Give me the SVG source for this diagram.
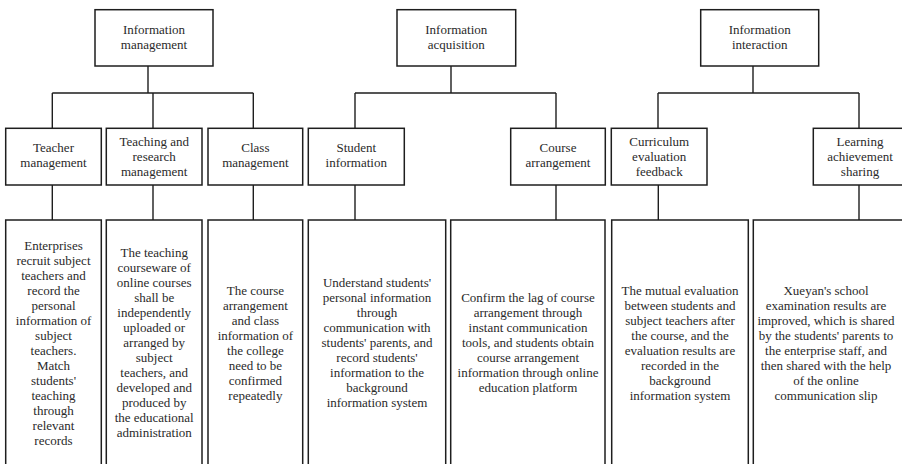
<svg xmlns="http://www.w3.org/2000/svg" width="902" height="464" viewBox="0 0 902 464">
  <style>
    .box { fill: #ffffff; stroke: #1e1e1e; stroke-width: 1.5; }
    .link { fill: none; stroke: #1e1e1e; stroke-width: 1.4; }
    text { font-family: "Liberation Serif", "Times New Roman", serif; font-size: 13px; fill: #2a2a2a; text-anchor: middle; }
  </style>
  <rect width="902" height="464" fill="#ffffff"/>

  <!-- connectors -->
  <g id="connectors">
    <path class="link" d="M148 66V93M52.3 93H253.3M52.3 93V128.3M153 93V128.3M253.3 93V128.3"/>
    <path class="link" d="M451 66V93M355 93H556M355 93V128.3M556 93V128.3"/>
    <path class="link" d="M753 66V93M658 93H859M658 93V128.3M859 93V128.3"/>
    <path class="link" d="M52.3 185V220M153 185V220M253.3 185V220M355 185V220M556 185V220M658.3 185V220M859 185V220"/>
  </g>

  <!-- top level -->
  <g id="info-management">
    <rect class="box" x="95" y="9.7" width="118" height="56.3"/>
    <text x="154" y="34.3">Information<tspan x="154" dy="15">management</tspan></text>
  </g>
  <g id="info-acquisition">
    <rect class="box" x="397" y="9.7" width="118.7" height="56.3"/>
    <text x="456.3" y="34.3">Information<tspan x="456.3" dy="15">acquisition</tspan></text>
  </g>
  <g id="info-interaction">
    <rect class="box" x="700.7" y="9.7" width="118" height="56.3"/>
    <text x="759.7" y="34.3">Information<tspan x="759.7" dy="15">interaction</tspan></text>
  </g>

  <!-- second level -->
  <g id="teacher-management">
    <rect class="box" x="5.7" y="128.3" width="95.6" height="56.7"/>
    <text x="53.5" y="152">Teacher<tspan x="53.5" dy="15">management</tspan></text>
  </g>
  <g id="teaching-research">
    <rect class="box" x="106.3" y="128.3" width="95.7" height="56.7"/>
    <text x="154.2" y="146">Teaching and<tspan x="154.2" dy="15">research</tspan><tspan x="154.2" dy="15">management</tspan></text>
  </g>
  <g id="class-management">
    <rect class="box" x="208" y="128.3" width="94.7" height="56.7"/>
    <text x="255.4" y="152">Class<tspan x="255.4" dy="15">management</tspan></text>
  </g>
  <g id="student-information">
    <rect class="box" x="308.3" y="128.3" width="96" height="56.7"/>
    <text x="356.3" y="152">Student<tspan x="356.3" dy="15">information</tspan></text>
  </g>
  <g id="course-arrangement">
    <rect class="box" x="510.7" y="128.3" width="94.6" height="56.7"/>
    <text x="558" y="152">Course<tspan x="558" dy="15">arrangement</tspan></text>
  </g>
  <g id="curriculum-feedback">
    <rect class="box" x="611.3" y="128.3" width="95.7" height="56.7"/>
    <text x="659.2" y="146">Curriculum<tspan x="659.2" dy="15">evaluation</tspan><tspan x="659.2" dy="15">feedback</tspan></text>
  </g>
  <g id="achievement-sharing">
    <rect class="box" x="813.3" y="128.3" width="93.7" height="56.7"/>
    <text x="860" y="146">Learning<tspan x="860" dy="15">achievement</tspan><tspan x="860" dy="15">sharing</tspan></text>
  </g>

  <!-- descriptions -->
  <g id="desc-teacher">
    <rect class="box" x="5.7" y="220" width="95.6" height="260"/>
    <text x="53.5" y="249.5">Enterprises<tspan x="53.5" dy="15">recruit subject</tspan><tspan x="53.5" dy="15">teachers and</tspan><tspan x="53.5" dy="15">record the</tspan><tspan x="53.5" dy="15">personal</tspan><tspan x="53.5" dy="15">information of</tspan><tspan x="53.5" dy="15">subject</tspan><tspan x="53.5" dy="15">teachers.</tspan><tspan x="53.5" dy="15">Match</tspan><tspan x="53.5" dy="15">students'</tspan><tspan x="53.5" dy="15">teaching</tspan><tspan x="53.5" dy="15">through</tspan><tspan x="53.5" dy="15">relevant</tspan><tspan x="53.5" dy="15">records</tspan></text>
  </g>
  <g id="desc-teaching">
    <rect class="box" x="106.3" y="220" width="95.7" height="260"/>
    <text x="154.2" y="257">The teaching<tspan x="154.2" dy="15">courseware of</tspan><tspan x="154.2" dy="15">online courses</tspan><tspan x="154.2" dy="15">shall be</tspan><tspan x="154.2" dy="15">independently</tspan><tspan x="154.2" dy="15">uploaded or</tspan><tspan x="154.2" dy="15">arranged by</tspan><tspan x="154.2" dy="15">subject</tspan><tspan x="154.2" dy="15">teachers, and</tspan><tspan x="154.2" dy="15">developed and</tspan><tspan x="154.2" dy="15">produced by</tspan><tspan x="154.2" dy="15">the educational</tspan><tspan x="154.2" dy="15">administration</tspan></text>
  </g>
  <g id="desc-class">
    <rect class="box" x="208" y="220" width="94.7" height="260"/>
    <text x="255.4" y="294.5">The course<tspan x="255.4" dy="15">arrangement</tspan><tspan x="255.4" dy="15">and class</tspan><tspan x="255.4" dy="15">information of</tspan><tspan x="255.4" dy="15">the college</tspan><tspan x="255.4" dy="15">need to be</tspan><tspan x="255.4" dy="15">confirmed</tspan><tspan x="255.4" dy="15">repeatedly</tspan></text>
  </g>
  <g id="desc-student">
    <rect class="box" x="308.3" y="220" width="137.4" height="260"/>
    <text x="377" y="287">Understand students'<tspan x="377" dy="15">personal information</tspan><tspan x="377" dy="15">through</tspan><tspan x="377" dy="15">communication with</tspan><tspan x="377" dy="15">students' parents, and</tspan><tspan x="377" dy="15">record students'</tspan><tspan x="377" dy="15">information to the</tspan><tspan x="377" dy="15">background</tspan><tspan x="377" dy="15">information system</tspan></text>
  </g>
  <g id="desc-course">
    <rect class="box" x="450.7" y="220" width="154.3" height="260"/>
    <text x="528" y="302">Confirm the lag of course<tspan x="528" dy="15">arrangement through</tspan><tspan x="528" dy="15">instant communication</tspan><tspan x="528" dy="15">tools, and students obtain</tspan><tspan x="528" dy="15">course arrangement</tspan><tspan x="528" dy="15">information through online</tspan><tspan x="528" dy="15">education platform</tspan></text>
  </g>
  <g id="desc-curriculum">
    <rect class="box" x="611.7" y="220" width="136.6" height="260"/>
    <text x="680" y="294.5">The mutual evaluation<tspan x="680" dy="15">between students and</tspan><tspan x="680" dy="15">subject teachers after</tspan><tspan x="680" dy="15">the course, and the</tspan><tspan x="680" dy="15">evaluation results are</tspan><tspan x="680" dy="15">recorded in the</tspan><tspan x="680" dy="15">background</tspan><tspan x="680" dy="15">information system</tspan></text>
  </g>
  <g id="desc-sharing">
    <rect class="box" x="753.3" y="220" width="152" height="260"/>
    <text x="826" y="294.5">Xueyan's school<tspan x="826" dy="15">examination results are</tspan><tspan x="826" dy="15">improved, which is shared</tspan><tspan x="826" dy="15">by the students' parents to</tspan><tspan x="826" dy="15">the enterprise staff, and</tspan><tspan x="826" dy="15">then shared with the help</tspan><tspan x="826" dy="15">of the online</tspan><tspan x="826" dy="15">communication slip</tspan></text>
  </g>
</svg>
